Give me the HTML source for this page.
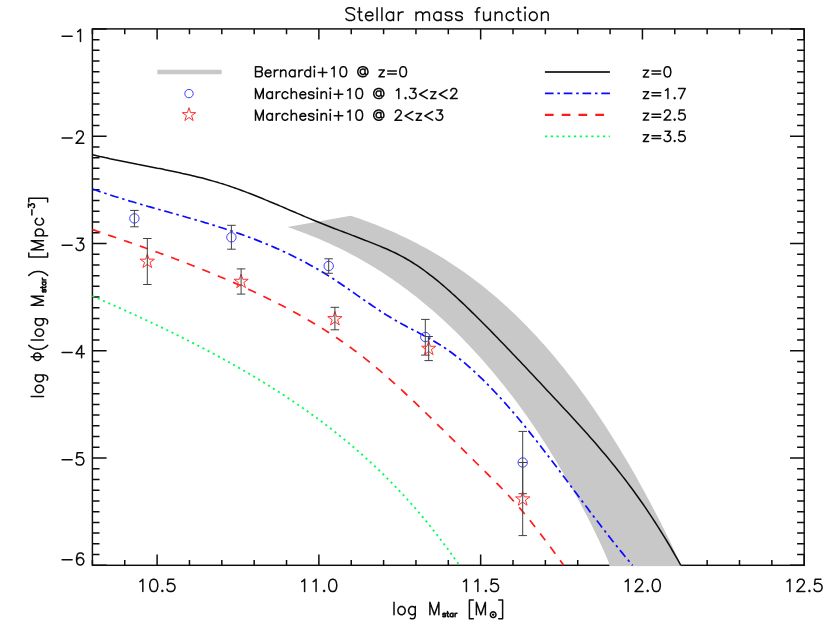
<!DOCTYPE html>
<html><head><meta charset="utf-8"><title>Stellar mass function</title>
<style>html,body{margin:0;padding:0;background:#fff}svg{display:block}text{font-family:"Liberation Sans",sans-serif}</style></head><body>
<svg width="830" height="624" viewBox="0 0 830 624">
<rect width="830" height="624" fill="#fff"/>
<defs><clipPath id="c"><rect x="91.7" y="28.9" width="713.2" height="537.1"/></clipPath></defs>
<rect x="92.4" y="28.9" width="711.8" height="536.4" fill="none" stroke="#0d0d0d" stroke-width="1.45"/>
<path d="M92.40 565.30 v-5.4 M92.40 28.90 v5.4 M124.75 565.30 v-5.4 M124.75 28.90 v5.4 M157.11 565.30 v-10.7 M157.11 28.90 v10.7 M189.46 565.30 v-5.4 M189.46 28.90 v5.4 M221.82 565.30 v-5.4 M221.82 28.90 v5.4 M254.17 565.30 v-5.4 M254.17 28.90 v5.4 M286.53 565.30 v-5.4 M286.53 28.90 v5.4 M318.88 565.30 v-10.7 M318.88 28.90 v10.7 M351.24 565.30 v-5.4 M351.24 28.90 v5.4 M383.59 565.30 v-5.4 M383.59 28.90 v5.4 M415.95 565.30 v-5.4 M415.95 28.90 v5.4 M448.30 565.30 v-5.4 M448.30 28.90 v5.4 M480.65 565.30 v-10.7 M480.65 28.90 v10.7 M513.01 565.30 v-5.4 M513.01 28.90 v5.4 M545.36 565.30 v-5.4 M545.36 28.90 v5.4 M577.72 565.30 v-5.4 M577.72 28.90 v5.4 M610.07 565.30 v-5.4 M610.07 28.90 v5.4 M642.43 565.30 v-10.7 M642.43 28.90 v10.7 M674.78 565.30 v-5.4 M674.78 28.90 v5.4 M707.14 565.30 v-5.4 M707.14 28.90 v5.4 M739.49 565.30 v-5.4 M739.49 28.90 v5.4 M771.85 565.30 v-5.4 M771.85 28.90 v5.4 M804.20 565.30 v-10.7 M804.20 28.90 v10.7 M92.40 28.90 h14.2 M804.20 28.90 h-14.2 M92.40 39.63 h7.1 M804.20 39.63 h-7.1 M92.40 50.36 h7.1 M804.20 50.36 h-7.1 M92.40 61.08 h7.1 M804.20 61.08 h-7.1 M92.40 71.81 h7.1 M804.20 71.81 h-7.1 M92.40 82.54 h7.1 M804.20 82.54 h-7.1 M92.40 93.27 h7.1 M804.20 93.27 h-7.1 M92.40 104.00 h7.1 M804.20 104.00 h-7.1 M92.40 114.72 h7.1 M804.20 114.72 h-7.1 M92.40 125.45 h7.1 M804.20 125.45 h-7.1 M92.40 136.18 h14.2 M804.20 136.18 h-14.2 M92.40 146.91 h7.1 M804.20 146.91 h-7.1 M92.40 157.64 h7.1 M804.20 157.64 h-7.1 M92.40 168.36 h7.1 M804.20 168.36 h-7.1 M92.40 179.09 h7.1 M804.20 179.09 h-7.1 M92.40 189.82 h7.1 M804.20 189.82 h-7.1 M92.40 200.55 h7.1 M804.20 200.55 h-7.1 M92.40 211.28 h7.1 M804.20 211.28 h-7.1 M92.40 222.00 h7.1 M804.20 222.00 h-7.1 M92.40 232.73 h7.1 M804.20 232.73 h-7.1 M92.40 243.46 h14.2 M804.20 243.46 h-14.2 M92.40 254.19 h7.1 M804.20 254.19 h-7.1 M92.40 264.92 h7.1 M804.20 264.92 h-7.1 M92.40 275.64 h7.1 M804.20 275.64 h-7.1 M92.40 286.37 h7.1 M804.20 286.37 h-7.1 M92.40 297.10 h7.1 M804.20 297.10 h-7.1 M92.40 307.83 h7.1 M804.20 307.83 h-7.1 M92.40 318.56 h7.1 M804.20 318.56 h-7.1 M92.40 329.28 h7.1 M804.20 329.28 h-7.1 M92.40 340.01 h7.1 M804.20 340.01 h-7.1 M92.40 350.74 h14.2 M804.20 350.74 h-14.2 M92.40 361.47 h7.1 M804.20 361.47 h-7.1 M92.40 372.20 h7.1 M804.20 372.20 h-7.1 M92.40 382.92 h7.1 M804.20 382.92 h-7.1 M92.40 393.65 h7.1 M804.20 393.65 h-7.1 M92.40 404.38 h7.1 M804.20 404.38 h-7.1 M92.40 415.11 h7.1 M804.20 415.11 h-7.1 M92.40 425.84 h7.1 M804.20 425.84 h-7.1 M92.40 436.56 h7.1 M804.20 436.56 h-7.1 M92.40 447.29 h7.1 M804.20 447.29 h-7.1 M92.40 458.02 h14.2 M804.20 458.02 h-14.2 M92.40 468.75 h7.1 M804.20 468.75 h-7.1 M92.40 479.48 h7.1 M804.20 479.48 h-7.1 M92.40 490.20 h7.1 M804.20 490.20 h-7.1 M92.40 500.93 h7.1 M804.20 500.93 h-7.1 M92.40 511.66 h7.1 M804.20 511.66 h-7.1 M92.40 522.39 h7.1 M804.20 522.39 h-7.1 M92.40 533.12 h7.1 M804.20 533.12 h-7.1 M92.40 543.84 h7.1 M804.20 543.84 h-7.1 M92.40 554.57 h7.1 M804.20 554.57 h-7.1 M92.40 565.30 h14.2 M804.20 565.30 h-14.2" stroke="#0d0d0d" stroke-width="1.5" fill="none"/>
<g clip-path="url(#c)">
<path d="M287.5 227.1 L350.7 215.7 L353.7 216.7 L356.7 217.7 L359.7 218.8 L362.7 219.8 L365.7 220.9 L368.7 222.0 L371.7 223.2 L374.7 224.3 L377.7 225.5 L380.7 226.7 L383.7 227.9 L386.7 229.2 L389.7 230.5 L392.7 231.8 L395.7 233.1 L398.7 234.5 L401.7 235.9 L404.7 237.3 L407.7 238.7 L410.7 240.2 L413.7 241.7 L416.7 243.3 L419.7 244.9 L422.7 246.5 L425.7 248.1 L428.7 249.8 L431.7 251.5 L434.7 253.2 L437.7 255.0 L440.7 256.8 L443.7 258.6 L446.7 260.5 L449.7 262.4 L452.7 264.4 L455.7 266.4 L458.7 268.4 L461.7 270.5 L464.7 272.6 L467.7 274.8 L470.7 277.0 L473.7 279.2 L476.7 281.5 L479.7 283.8 L482.7 286.1 L485.7 288.5 L488.7 291.0 L491.7 293.5 L494.7 296.0 L497.7 298.6 L500.7 301.2 L503.7 303.9 L506.7 306.6 L509.7 309.4 L512.7 312.2 L515.7 315.1 L518.7 318.0 L521.7 321.0 L524.7 324.0 L527.7 327.1 L530.7 330.2 L533.7 333.4 L536.7 336.6 L539.7 339.9 L542.7 343.2 L545.7 346.6 L548.7 350.0 L551.7 353.5 L554.7 357.1 L557.7 360.7 L560.7 364.4 L563.7 368.1 L566.7 371.9 L569.7 375.7 L572.7 379.6 L575.7 383.6 L578.7 387.6 L581.7 391.7 L584.7 395.8 L587.7 400.0 L590.7 404.3 L593.7 408.6 L596.7 413.0 L599.7 417.4 L602.7 422.0 L605.7 426.6 L608.7 431.2 L611.7 435.9 L614.7 440.7 L617.7 445.6 L620.7 450.5 L623.7 455.5 L626.7 460.5 L629.7 465.6 L632.7 470.8 L635.7 476.1 L638.7 481.4 L641.7 486.9 L644.7 492.3 L647.7 497.9 L650.7 503.5 L653.7 509.2 L656.7 515.0 L659.7 520.8 L662.7 526.8 L665.7 532.8 L668.7 538.8 L671.7 545.0 L674.7 551.2 L677.7 557.5 L680.7 563.9 L681.2 566.3 L609.5 566.3 L608.5 561.7 L605.5 554.8 L602.5 548.1 L599.5 541.6 L596.5 535.2 L593.5 529.1 L590.5 523.0 L587.5 517.1 L584.5 511.4 L581.5 505.7 L578.5 500.1 L575.5 494.7 L572.5 489.3 L569.5 484.0 L566.5 478.8 L563.5 473.6 L560.5 468.5 L557.5 463.5 L554.5 458.6 L551.5 453.7 L548.5 448.8 L545.5 444.1 L542.5 439.4 L539.5 434.8 L536.5 430.2 L533.5 425.8 L530.5 421.4 L527.5 417.1 L524.5 412.9 L521.5 408.7 L518.5 404.6 L515.5 400.6 L512.5 396.6 L509.5 392.7 L506.5 388.9 L503.5 385.1 L500.5 381.4 L497.5 377.7 L494.5 374.1 L491.5 370.5 L488.5 367.0 L485.5 363.6 L482.5 360.1 L479.5 356.8 L476.5 353.5 L473.5 350.2 L470.5 347.0 L467.5 343.8 L464.5 340.7 L461.5 337.6 L458.5 334.6 L455.5 331.6 L452.5 328.7 L449.5 325.8 L446.5 323.0 L443.5 320.2 L440.5 317.4 L437.5 314.7 L434.5 312.1 L431.5 309.5 L428.5 306.9 L425.5 304.4 L422.5 301.9 L419.5 299.5 L416.5 297.0 L413.5 294.7 L410.5 292.4 L407.5 290.1 L404.5 287.9 L401.5 285.7 L398.5 283.5 L395.5 281.4 L392.5 279.3 L389.5 277.2 L386.5 275.2 L383.5 273.3 L380.5 271.3 L377.5 269.4 L374.5 267.6 L371.5 265.7 L368.5 263.9 L365.5 262.2 L362.5 260.5 L359.5 258.8 L356.5 257.1 L353.5 255.5 L350.5 253.9 L347.5 252.3 L344.5 250.8 L341.5 249.3 L338.5 247.8 L335.5 246.4 L332.5 245.0 L329.5 243.6 L326.5 242.2 L323.5 240.9 L320.5 239.6 L317.5 238.3 L314.5 237.1 L311.5 235.9 L308.5 234.7 L305.5 233.5 L302.5 232.4 L299.5 231.3 L296.5 230.2 L293.5 229.1 L290.5 228.1 Z" fill="#c8c8c8"/>
<path d="M92.4 154.7 L94.9 155.3 L97.4 155.9 L99.9 156.5 L102.4 157.0 L104.9 157.6 L107.4 158.1 L109.9 158.7 L112.4 159.2 L114.9 159.8 L117.4 160.3 L119.9 160.8 L122.4 161.3 L124.9 161.8 L127.4 162.3 L129.9 162.8 L132.4 163.3 L134.9 163.8 L137.4 164.3 L139.9 164.7 L142.4 165.2 L144.9 165.7 L147.4 166.2 L149.9 166.7 L152.4 167.2 L154.9 167.7 L157.4 168.2 L159.9 168.6 L162.4 169.1 L164.9 169.7 L167.4 170.2 L169.9 170.7 L172.4 171.2 L174.9 171.7 L177.4 172.3 L179.9 172.8 L182.4 173.4 L184.9 173.9 L187.4 174.5 L189.9 175.1 L192.4 175.7 L194.9 176.3 L197.4 176.9 L199.9 177.5 L202.4 178.1 L204.9 178.8 L207.4 179.5 L209.9 180.2 L212.4 180.9 L214.9 181.6 L217.4 182.3 L219.9 183.1 L222.4 183.8 L224.9 184.6 L227.4 185.4 L229.9 186.3 L232.4 187.1 L234.9 188.0 L237.4 188.9 L239.9 189.8 L242.4 190.7 L244.9 191.6 L247.4 192.6 L249.9 193.5 L252.4 194.5 L254.9 195.5 L257.4 196.5 L259.9 197.5 L262.4 198.5 L264.9 199.6 L267.4 200.6 L269.9 201.7 L272.4 202.7 L274.9 203.8 L277.4 204.8 L279.9 205.9 L282.4 206.9 L284.9 208.0 L287.4 209.1 L289.9 210.2 L292.4 211.2 L294.9 212.3 L297.4 213.4 L299.9 214.4 L302.4 215.5 L304.9 216.6 L307.4 217.6 L309.9 218.6 L312.4 219.7 L314.9 220.7 L317.4 221.7 L319.9 222.7 L322.4 223.8 L324.9 224.7 L327.4 225.7 L329.9 226.7 L332.4 227.7 L334.9 228.7 L337.4 229.6 L339.9 230.6 L342.4 231.5 L344.9 232.5 L347.4 233.4 L349.9 234.4 L352.4 235.4 L354.9 236.3 L357.4 237.3 L359.9 238.2 L362.4 239.2 L364.9 240.2 L367.4 241.1 L369.9 242.1 L372.4 243.1 L374.9 244.1 L377.4 245.1 L379.9 246.1 L382.4 247.2 L384.9 248.2 L387.4 249.3 L389.9 250.5 L392.4 251.6 L394.9 252.8 L397.4 254.0 L399.9 255.3 L402.4 256.6 L404.9 258.0 L407.4 259.5 L409.9 260.9 L412.4 262.5 L414.9 264.1 L417.4 265.7 L419.9 267.4 L422.4 269.2 L424.9 271.0 L427.4 272.9 L429.9 274.8 L432.4 276.7 L434.9 278.7 L437.4 280.7 L439.9 282.8 L442.4 284.9 L444.9 287.0 L447.4 289.2 L449.9 291.4 L452.4 293.7 L454.9 295.9 L457.4 298.2 L459.9 300.6 L462.4 302.9 L464.9 305.3 L467.4 307.7 L469.9 310.1 L472.4 312.6 L474.9 315.0 L477.4 317.5 L479.9 320.0 L482.4 322.5 L484.9 325.0 L487.4 327.5 L489.9 330.1 L492.4 332.6 L494.9 335.2 L497.4 337.8 L499.9 340.4 L502.4 343.0 L504.9 345.6 L507.4 348.2 L509.9 350.8 L512.4 353.4 L514.9 356.0 L517.4 358.7 L519.9 361.3 L522.4 364.0 L524.9 366.6 L527.4 369.3 L529.9 372.0 L532.4 374.6 L534.9 377.3 L537.4 380.0 L539.9 382.6 L542.4 385.3 L544.9 388.0 L547.4 390.7 L549.9 393.3 L552.4 396.0 L554.9 398.7 L557.4 401.3 L559.9 404.0 L562.4 406.7 L564.9 409.4 L567.4 412.1 L569.9 414.8 L572.4 417.5 L574.9 420.2 L577.4 423.0 L579.9 425.7 L582.4 428.5 L584.9 431.3 L587.4 434.1 L589.9 436.9 L592.4 439.7 L594.9 442.6 L597.4 445.5 L599.9 448.4 L602.4 451.4 L604.9 454.3 L607.4 457.3 L609.9 460.4 L612.4 463.4 L614.9 466.5 L617.4 469.7 L619.9 472.9 L622.4 476.1 L624.9 479.3 L627.4 482.6 L629.9 486.0 L632.4 489.3 L634.9 492.8 L637.4 496.2 L639.9 499.8 L642.4 503.3 L644.9 506.9 L647.4 510.6 L649.9 514.3 L652.4 518.1 L654.9 522.0 L657.4 525.8 L659.9 529.8 L662.4 533.8 L664.9 537.9 L667.4 542.0 L669.9 546.2 L672.4 550.5 L674.9 554.8 L677.4 559.2 L679.9 563.6 L680.8 565.3" fill="none" stroke="#0d0d0d" stroke-width="1.5"/>
<path d="M92.4 189.0 L94.9 189.8 L97.4 190.7 L99.9 191.6 L102.4 192.4 L104.9 193.2 L107.4 194.1 L109.9 194.9 L112.4 195.7 L114.9 196.5 L117.4 197.2 L119.9 198.0 L122.4 198.8 L124.9 199.6 L127.4 200.3 L129.9 201.1 L132.4 201.8 L134.9 202.5 L137.4 203.3 L139.9 204.0 L142.4 204.7 L144.9 205.4 L147.4 206.2 L149.9 206.9 L152.4 207.6 L154.9 208.3 L157.4 209.0 L159.9 209.7 L162.4 210.4 L164.9 211.1 L167.4 211.8 L169.9 212.5 L172.4 213.2 L174.9 213.9 L177.4 214.6 L179.9 215.3 L182.4 216.0 L184.9 216.7 L187.4 217.5 L189.9 218.2 L192.4 218.9 L194.9 219.6 L197.4 220.4 L199.9 221.1 L202.4 221.8 L204.9 222.6 L207.4 223.3 L209.9 224.1 L212.4 224.9 L214.9 225.6 L217.4 226.4 L219.9 227.2 L222.4 228.0 L224.9 228.8 L227.4 229.7 L229.9 230.5 L232.4 231.3 L234.9 232.2 L237.4 233.0 L239.9 233.9 L242.4 234.8 L244.9 235.7 L247.4 236.6 L249.9 237.5 L252.4 238.5 L254.9 239.4 L257.4 240.4 L259.9 241.4 L262.4 242.4 L264.9 243.4 L267.4 244.4 L269.9 245.5 L272.4 246.5 L274.9 247.6 L277.4 248.7 L279.9 249.8 L282.4 251.0 L284.9 252.1 L287.4 253.3 L289.9 254.5 L292.4 255.7 L294.9 257.0 L297.4 258.2 L299.9 259.5 L302.4 260.8 L304.9 262.1 L307.4 263.5 L309.9 264.9 L312.4 266.3 L314.9 267.7 L317.4 269.1 L319.9 270.6 L322.4 272.1 L324.9 273.6 L327.4 275.1 L329.9 276.7 L332.4 278.3 L334.9 279.9 L337.4 281.6 L339.9 283.3 L342.4 285.0 L344.9 286.7 L347.4 288.4 L349.9 290.1 L352.4 291.9 L354.9 293.6 L357.4 295.4 L359.9 297.1 L362.4 298.9 L364.9 300.6 L367.4 302.3 L369.9 304.0 L372.4 305.8 L374.9 307.4 L377.4 309.1 L379.9 310.8 L382.4 312.4 L384.9 314.0 L387.4 315.6 L389.9 317.1 L392.4 318.6 L394.9 320.1 L397.4 321.5 L399.9 322.9 L402.4 324.3 L404.9 325.6 L407.4 327.0 L409.9 328.3 L412.4 329.6 L414.9 330.9 L417.4 332.1 L419.9 333.5 L422.4 334.8 L424.9 336.1 L427.4 337.4 L429.9 338.8 L432.4 340.2 L434.9 341.7 L437.4 343.2 L439.9 344.7 L442.4 346.3 L444.9 348.0 L447.4 349.7 L449.9 351.5 L452.4 353.3 L454.9 355.2 L457.4 357.1 L459.9 359.1 L462.4 361.1 L464.9 363.2 L467.4 365.4 L469.9 367.6 L472.4 369.8 L474.9 372.1 L477.4 374.4 L479.9 376.8 L482.4 379.2 L484.9 381.7 L487.4 384.2 L489.9 386.7 L492.4 389.3 L494.9 392.0 L497.4 394.6 L499.9 397.4 L502.4 400.1 L504.9 402.9 L507.4 405.7 L509.9 408.6 L512.4 411.5 L514.9 414.4 L517.4 417.3 L519.9 420.3 L522.4 423.3 L524.9 426.4 L527.4 429.5 L529.9 432.6 L532.4 435.7 L534.9 438.9 L537.4 442.0 L539.9 445.2 L542.4 448.5 L544.9 451.7 L547.4 455.0 L549.9 458.2 L552.4 461.5 L554.9 464.8 L557.4 468.1 L559.9 471.4 L562.4 474.8 L564.9 478.1 L567.4 481.4 L569.9 484.8 L572.4 488.1 L574.9 491.5 L577.4 494.8 L579.9 498.1 L582.4 501.5 L584.9 504.8 L587.4 508.1 L589.9 511.5 L592.4 514.8 L594.9 518.1 L597.4 521.3 L599.9 524.6 L602.4 527.9 L604.9 531.1 L607.4 534.3 L609.9 537.5 L612.4 540.7 L614.9 543.8 L617.4 547.0 L619.9 550.1 L622.4 553.1 L624.9 556.2 L627.4 559.2 L629.9 562.2 L632.4 565.1 L632.6 565.3" fill="none" stroke="#0a0aff" stroke-width="1.7" stroke-dasharray="8.7 3.8 2.5 3.8"/>
<path d="M92.4 229.5 L94.9 230.4 L97.4 231.3 L99.9 232.1 L102.4 233.0 L104.9 233.8 L107.4 234.7 L109.9 235.6 L112.4 236.4 L114.9 237.3 L117.4 238.1 L119.9 239.0 L122.4 239.9 L124.9 240.8 L127.4 241.6 L129.9 242.5 L132.4 243.4 L134.9 244.3 L137.4 245.1 L139.9 246.0 L142.4 246.9 L144.9 247.8 L147.4 248.7 L149.9 249.6 L152.4 250.5 L154.9 251.4 L157.4 252.3 L159.9 253.2 L162.4 254.1 L164.9 255.1 L167.4 256.0 L169.9 256.9 L172.4 257.8 L174.9 258.8 L177.4 259.7 L179.9 260.7 L182.4 261.6 L184.9 262.6 L187.4 263.5 L189.9 264.5 L192.4 265.5 L194.9 266.5 L197.4 267.5 L199.9 268.5 L202.4 269.5 L204.9 270.5 L207.4 271.5 L209.9 272.5 L212.4 273.5 L214.9 274.6 L217.4 275.6 L219.9 276.7 L222.4 277.7 L224.9 278.8 L227.4 279.8 L229.9 280.9 L232.4 282.0 L234.9 283.1 L237.4 284.2 L239.9 285.3 L242.4 286.5 L244.9 287.6 L247.4 288.7 L249.9 289.9 L252.4 291.1 L254.9 292.2 L257.4 293.4 L259.9 294.6 L262.4 295.8 L264.9 297.0 L267.4 298.2 L269.9 299.5 L272.4 300.7 L274.9 302.0 L277.4 303.2 L279.9 304.5 L282.4 305.8 L284.9 307.1 L287.4 308.4 L289.9 309.7 L292.4 311.1 L294.9 312.4 L297.4 313.8 L299.9 315.2 L302.4 316.6 L304.9 318.0 L307.4 319.5 L309.9 320.9 L312.4 322.4 L314.9 323.9 L317.4 325.4 L319.9 327.0 L322.4 328.5 L324.9 330.1 L327.4 331.7 L329.9 333.3 L332.4 334.9 L334.9 336.6 L337.4 338.3 L339.9 340.0 L342.4 341.7 L344.9 343.5 L347.4 345.2 L349.9 347.0 L352.4 348.9 L354.9 350.7 L357.4 352.6 L359.9 354.5 L362.4 356.4 L364.9 358.4 L367.4 360.4 L369.9 362.4 L372.4 364.4 L374.9 366.5 L377.4 368.6 L379.9 370.7 L382.4 372.8 L384.9 375.0 L387.4 377.2 L389.9 379.4 L392.4 381.6 L394.9 383.8 L397.4 386.1 L399.9 388.4 L402.4 390.7 L404.9 393.0 L407.4 395.3 L409.9 397.7 L412.4 400.0 L414.9 402.4 L417.4 404.8 L419.9 407.2 L422.4 409.6 L424.9 412.0 L427.4 414.5 L429.9 416.9 L432.4 419.4 L434.9 421.8 L437.4 424.3 L439.9 426.8 L442.4 429.2 L444.9 431.7 L447.4 434.2 L449.9 436.7 L452.4 439.2 L454.9 441.6 L457.4 444.1 L459.9 446.6 L462.4 449.1 L464.9 451.6 L467.4 454.1 L469.9 456.5 L472.4 459.0 L474.9 461.5 L477.4 464.0 L479.9 466.4 L482.4 468.9 L484.9 471.3 L487.4 473.8 L489.9 476.3 L492.4 478.8 L494.9 481.3 L497.4 483.9 L499.9 486.4 L502.4 489.0 L504.9 491.7 L507.4 494.3 L509.9 497.0 L512.4 499.8 L514.9 502.6 L517.4 505.4 L519.9 508.3 L522.4 511.2 L524.9 514.2 L527.4 517.3 L529.9 520.3 L532.4 523.5 L534.9 526.7 L537.4 529.9 L539.9 533.1 L542.4 536.4 L544.9 539.7 L547.4 543.1 L549.9 546.4 L552.4 549.8 L554.9 553.2 L557.4 556.6 L559.9 560.0 L562.4 563.5 L563.7 565.3" fill="none" stroke="#ff1a1a" stroke-width="1.7" stroke-dasharray="8.5 8.2"/>
<path d="M92.4 296.0 L95.4 297.3 L98.4 298.6 L101.4 299.9 L104.4 301.3 L107.4 302.6 L110.4 303.9 L113.4 305.2 L116.4 306.6 L119.4 307.9 L122.4 309.3 L125.4 310.6 L128.4 312.0 L131.4 313.4 L134.4 314.7 L137.4 316.1 L140.4 317.5 L143.4 318.9 L146.4 320.3 L149.4 321.7 L152.4 323.1 L155.4 324.6 L158.4 326.0 L161.4 327.4 L164.4 328.9 L167.4 330.3 L170.4 331.8 L173.4 333.2 L176.4 334.7 L179.4 336.2 L182.4 337.7 L185.4 339.2 L188.4 340.7 L191.4 342.2 L194.4 343.8 L197.4 345.3 L200.4 346.9 L203.4 348.4 L206.4 350.0 L209.4 351.6 L212.4 353.2 L215.4 354.8 L218.4 356.4 L221.4 358.0 L224.4 359.7 L227.4 361.3 L230.4 363.0 L233.4 364.7 L236.4 366.4 L239.4 368.1 L242.4 369.8 L245.4 371.5 L248.4 373.3 L251.4 375.1 L254.4 376.8 L257.4 378.6 L260.4 380.5 L263.4 382.3 L266.4 384.1 L269.4 386.0 L272.4 387.9 L275.4 389.8 L278.4 391.7 L281.4 393.6 L284.4 395.6 L287.4 397.6 L290.4 399.6 L293.4 401.6 L296.4 403.6 L299.4 405.7 L302.4 407.8 L305.4 409.9 L308.4 412.0 L311.4 414.1 L314.4 416.3 L317.4 418.5 L320.4 420.7 L323.4 423.0 L326.4 425.3 L329.4 427.6 L332.4 429.9 L335.4 432.3 L338.4 434.7 L341.4 437.1 L344.4 439.5 L347.4 442.0 L350.4 444.5 L353.4 447.1 L356.4 449.7 L359.4 452.3 L362.4 454.9 L365.4 457.6 L368.4 460.3 L371.4 463.1 L374.4 465.9 L377.4 468.7 L380.4 471.6 L383.4 474.5 L386.4 477.5 L389.4 480.5 L392.4 483.5 L395.4 486.6 L398.4 489.8 L401.4 493.0 L404.4 496.2 L407.4 499.5 L410.4 502.8 L413.4 506.2 L416.4 509.6 L419.4 513.1 L422.4 516.7 L425.4 520.3 L428.4 524.0 L431.4 527.7 L434.4 531.5 L437.4 535.3 L440.4 539.2 L443.4 543.2 L446.4 547.2 L449.4 551.3 L452.4 555.5 L455.4 559.8 L458.4 564.1 L459.2 565.3" fill="none" stroke="#00ff50" stroke-width="1.8" stroke-dasharray="2.1 3.7"/>
</g>
<circle cx="134.4" cy="218.4" r="4.7" fill="none" stroke="#4040ff" stroke-width="1"/>
<path d="M134.4 210.4 V226.8 M130.2 210.4 H138.7 M130.2 226.8 H138.7" stroke="#404040" stroke-width="1" fill="none"/>
<circle cx="231.4" cy="237.3" r="4.7" fill="none" stroke="#4040ff" stroke-width="1"/>
<path d="M231.4 225.3 V249.2 M227.2 225.3 H235.7 M227.2 249.2 H235.7" stroke="#404040" stroke-width="1" fill="none"/>
<circle cx="328.7" cy="266.0" r="4.7" fill="none" stroke="#4040ff" stroke-width="1"/>
<path d="M328.7 258.8 V273.3 M324.4 258.8 H332.9 M324.4 273.3 H332.9" stroke="#404040" stroke-width="1" fill="none"/>
<circle cx="425.3" cy="337.0" r="4.7" fill="none" stroke="#4040ff" stroke-width="1"/>
<path d="M425.3 319.4 V355.1 M421.1 319.4 H429.6 M421.1 355.1 H429.6" stroke="#404040" stroke-width="1" fill="none"/>
<circle cx="522.7" cy="462.5" r="4.7" fill="none" stroke="#4040ff" stroke-width="1"/>
<path d="M522.7 431.4 V493.7 M518.5 431.4 H527.0 M518.5 493.7 H527.0" stroke="#404040" stroke-width="1" fill="none"/>
<polygon points="147.30,254.00 148.98,259.18 154.43,259.18 150.02,262.39 151.71,267.57 147.30,264.37 142.89,267.57 144.58,262.39 140.17,259.18 145.62,259.18" fill="none" stroke="#ff3030" stroke-width="1"/>
<path d="M147.3 238.5 V284.5 M143.1 238.5 H151.6 M143.1 284.5 H151.6" stroke="#404040" stroke-width="1" fill="none"/>
<polygon points="241.10,274.10 242.78,279.28 248.23,279.28 243.82,282.49 245.51,287.67 241.10,284.47 236.69,287.67 238.38,282.49 233.97,279.28 239.42,279.28" fill="none" stroke="#ff3030" stroke-width="1"/>
<path d="M241.1 268.9 V294.1 M236.8 268.9 H245.3 M236.8 294.1 H245.3" stroke="#404040" stroke-width="1" fill="none"/>
<polygon points="334.90,311.40 336.58,316.58 342.03,316.58 337.62,319.79 339.31,324.97 334.90,321.76 330.49,324.97 332.18,319.79 327.77,316.58 333.22,316.58" fill="none" stroke="#ff3030" stroke-width="1"/>
<path d="M334.9 307.3 V329.8 M330.6 307.3 H339.1 M330.6 329.8 H339.1" stroke="#404040" stroke-width="1" fill="none"/>
<polygon points="428.70,341.10 430.38,346.28 435.83,346.28 431.42,349.49 433.11,354.67 428.70,351.47 424.29,354.67 425.98,349.49 421.57,346.28 427.02,346.28" fill="none" stroke="#ff3030" stroke-width="1"/>
<path d="M428.7 336.5 V360.6 M424.4 336.5 H432.9 M424.4 360.6 H432.9" stroke="#404040" stroke-width="1" fill="none"/>
<polygon points="522.70,491.70 524.38,496.88 529.83,496.88 525.42,500.09 527.11,505.27 522.70,502.06 518.29,505.27 519.98,500.09 515.57,496.88 521.02,496.88" fill="none" stroke="#ff3030" stroke-width="1"/>
<path d="M522.7 462.5 V535.6 M518.5 462.5 H527.0 M518.5 535.6 H527.0" stroke="#404040" stroke-width="1" fill="none"/>
<path d="M157.3 72 H221.7" stroke="#c8c8c8" stroke-width="4.6"/>
<circle cx="189.0" cy="93.6" r="4.2" fill="none" stroke="#4040ff" stroke-width="1"/>
<polygon points="189.00,107.70 190.59,112.61 195.75,112.61 191.58,115.64 193.17,120.54 189.00,117.51 184.83,120.54 186.42,115.64 182.25,112.61 187.41,112.61" fill="none" stroke="#ff3030" stroke-width="1"/>
<path d="M544.9 71.9 H609.9" stroke="#333" stroke-width="2"/>
<path d="M544.9 93.3 H609.9" stroke="#0a0aff" stroke-width="1.8" stroke-dasharray="8.7 3.8 2.5 3.8"/>
<path d="M544.9 114.9 H609.9" stroke="#ff1a1a" stroke-width="2.2" stroke-dasharray="8.7 8.1"/>
<path d="M544.9 136.3 H609.9" stroke="#00ff50" stroke-width="1.7" stroke-dasharray="2.3 3.5"/>
<path d="M255.50 71.49 L255.50 66.67 L259.84 66.67 L261.29 67.15 L261.77 67.63 L262.25 68.60 L262.25 69.56 L261.77 70.53 L261.29 71.01 L259.84 71.49 L255.50 71.49 L255.50 76.80 L259.84 76.80 L261.29 76.32 L261.77 75.83 L262.25 74.87 L262.25 73.42 L261.77 72.46 L261.29 71.97 L259.84 71.49 M265.15 72.94 L265.63 71.49 L266.60 70.53 L267.56 70.05 L269.01 70.05 L269.97 70.53 L270.46 71.01 L270.94 71.97 L270.94 72.94 L265.15 72.94 L265.15 73.91 L265.63 75.35 L266.60 76.32 L267.56 76.80 L269.01 76.80 L269.97 76.32 L270.94 75.35 M274.32 70.05 L274.32 76.80 M274.32 72.94 L274.80 71.49 L275.76 70.53 L276.73 70.05 L278.18 70.05 M280.59 70.05 L280.59 76.80 M280.59 71.97 L282.04 70.53 L283.00 70.05 L284.45 70.05 L285.41 70.53 L285.90 71.97 L285.90 76.80 M295.06 70.05 L295.06 76.80 M295.06 71.49 L294.10 70.53 L293.13 70.05 L291.69 70.05 L290.72 70.53 L289.76 71.49 L289.27 72.94 L289.27 73.91 L289.76 75.35 L290.72 76.32 L291.69 76.80 L293.13 76.80 L294.10 76.32 L295.06 75.35 M298.93 70.05 L298.93 76.80 M298.93 72.94 L299.41 71.49 L300.37 70.53 L301.34 70.05 L302.79 70.05 M310.50 66.67 L310.50 76.80 M310.50 71.49 L309.54 70.53 L308.57 70.05 L307.13 70.05 L306.16 70.53 L305.20 71.49 L304.71 72.94 L304.71 73.91 L305.20 75.35 L306.16 76.32 L307.13 76.80 L308.57 76.80 L309.54 76.32 L310.50 75.35 M314.37 70.05 L314.37 76.80 M313.88 66.67 L314.37 66.19 L314.85 66.67 L314.37 67.15 L313.88 66.67 M318.23 72.46 L326.91 72.46 M322.57 68.11 L322.57 76.80 M331.74 68.60 L332.70 68.11 L334.15 66.67 L334.15 76.80 M339.94 71.01 L340.42 68.60 L341.38 67.15 L342.83 66.67 L343.80 66.67 L345.25 67.15 L346.21 68.60 L346.69 71.01 L346.69 72.46 L346.21 74.87 L345.25 76.32 L343.80 76.80 L342.83 76.80 L341.38 76.32 L340.42 74.87 L339.94 72.46 L339.94 71.01 M365.03 69.08 L365.03 72.94 L364.55 73.91 L363.58 74.39 L362.13 74.39 L361.17 73.91 L360.69 73.42 L360.20 72.46 L360.20 71.01 L360.69 70.05 L361.17 69.56 L362.13 69.08 L363.58 69.08 L364.55 69.56 L365.03 70.53 M365.03 72.94 L365.51 73.91 L365.99 74.39 L366.96 74.39 L367.44 73.91 L367.92 72.94 L367.92 71.01 L367.44 69.56 L366.96 68.60 L365.99 67.63 L365.03 67.15 L363.58 66.67 L362.13 66.67 L360.69 67.15 L359.72 67.63 L358.75 68.60 L358.27 69.56 L357.79 71.01 L357.79 72.46 L358.27 73.91 L358.75 74.87 L359.72 75.83 L360.69 76.32 L362.13 76.80 L363.58 76.80 L365.03 76.32 L365.99 75.83 M379.02 70.05 L384.33 70.05 L379.02 76.80 L384.33 76.80 M387.71 71.01 L396.39 71.01 M387.71 73.91 L396.39 73.91 M399.77 71.01 L400.25 68.60 L401.22 67.15 L402.66 66.67 L403.63 66.67 L405.08 67.15 L406.04 68.60 L406.52 71.01 L406.52 72.46 L406.04 74.87 L405.08 76.32 L403.63 76.80 L402.66 76.80 L401.22 76.32 L400.25 74.87 L399.77 72.46 L399.77 71.01 M255.50 98.60 L255.50 88.47 L259.36 98.60 L263.22 88.47 L263.22 98.60 M272.39 91.84 L272.39 98.60 M272.39 93.29 L271.42 92.33 L270.46 91.84 L269.01 91.84 L268.04 92.33 L267.08 93.29 L266.60 94.74 L266.60 95.70 L267.08 97.15 L268.04 98.12 L269.01 98.60 L270.46 98.60 L271.42 98.12 L272.39 97.15 M276.25 91.84 L276.25 98.60 M276.25 94.74 L276.73 93.29 L277.69 92.33 L278.66 91.84 L280.11 91.84 M287.83 93.29 L286.86 92.33 L285.90 91.84 L284.45 91.84 L283.48 92.33 L282.52 93.29 L282.04 94.74 L282.04 95.70 L282.52 97.15 L283.48 98.12 L284.45 98.60 L285.90 98.60 L286.86 98.12 L287.83 97.15 M291.20 88.47 L291.20 98.60 M291.20 93.77 L292.65 92.33 L293.62 91.84 L295.06 91.84 L296.03 92.33 L296.51 93.77 L296.51 98.60 M299.89 94.74 L300.37 93.29 L301.34 92.33 L302.30 91.84 L303.75 91.84 L304.71 92.33 L305.20 92.81 L305.68 93.77 L305.68 94.74 L299.89 94.74 L299.89 95.70 L300.37 97.15 L301.34 98.12 L302.30 98.60 L303.75 98.60 L304.71 98.12 L305.68 97.15 M308.57 97.15 L309.06 98.12 L310.50 98.60 L311.95 98.60 L313.40 98.12 L313.88 97.15 L313.88 96.67 L313.40 95.70 L312.44 95.22 L310.02 94.74 L309.06 94.26 L308.57 93.29 L309.06 92.33 L310.50 91.84 L311.95 91.84 L313.40 92.33 L313.88 93.29 M317.26 91.84 L317.26 98.60 M316.78 88.47 L317.26 87.98 L317.74 88.47 L317.26 88.95 L316.78 88.47 M321.12 91.84 L321.12 98.60 M321.12 93.77 L322.57 92.33 L323.53 91.84 L324.98 91.84 L325.94 92.33 L326.43 93.77 L326.43 98.60 M330.29 91.84 L330.29 98.60 M329.81 88.47 L330.29 87.98 L330.77 88.47 L330.29 88.95 L329.81 88.47 M334.15 94.26 L342.83 94.26 M338.49 89.91 L338.49 98.60 M347.66 90.40 L348.62 89.91 L350.07 88.47 L350.07 98.60 M355.86 92.81 L356.34 90.40 L357.31 88.95 L358.75 88.47 L359.72 88.47 L361.17 88.95 L362.13 90.40 L362.62 92.81 L362.62 94.26 L362.13 96.67 L361.17 98.12 L359.72 98.60 L358.75 98.60 L357.31 98.12 L356.34 96.67 L355.86 94.26 L355.86 92.81 M380.95 90.88 L380.95 94.74 L380.47 95.70 L379.50 96.19 L378.06 96.19 L377.09 95.70 L376.61 95.22 L376.12 94.26 L376.12 92.81 L376.61 91.84 L377.09 91.36 L378.06 90.88 L379.50 90.88 L380.47 91.36 L380.95 92.33 M380.95 94.74 L381.43 95.70 L381.92 96.19 L382.88 96.19 L383.36 95.70 L383.85 94.74 L383.85 92.81 L383.36 91.36 L382.88 90.40 L381.92 89.43 L380.95 88.95 L379.50 88.47 L378.06 88.47 L376.61 88.95 L375.64 89.43 L374.68 90.40 L374.20 91.36 L373.71 92.81 L373.71 94.26 L374.20 95.70 L374.68 96.67 L375.64 97.63 L376.61 98.12 L378.06 98.60 L379.50 98.60 L380.95 98.12 L381.92 97.63 M396.39 90.40 L397.36 89.91 L398.80 88.47 L398.80 98.60 M405.08 98.12 L405.56 97.63 L406.04 98.12 L405.56 98.60 L405.08 98.12 M409.42 96.67 L409.90 97.63 L410.38 98.12 L411.83 98.60 L413.28 98.60 L414.73 98.12 L415.69 97.15 L416.17 95.70 L416.17 94.74 L415.69 93.29 L415.21 92.81 L414.24 92.33 L412.80 92.33 L415.69 88.47 L410.38 88.47 M427.27 89.91 L419.55 94.26 L427.27 98.60 M430.65 91.84 L435.95 91.84 L430.65 98.60 L435.95 98.60 M447.05 89.91 L439.33 94.26 L447.05 98.60 M450.91 90.88 L450.91 90.40 L451.39 89.43 L451.88 88.95 L452.84 88.47 L454.77 88.47 L455.74 88.95 L456.22 89.43 L456.70 90.40 L456.70 91.36 L456.22 92.33 L455.25 93.77 L450.43 98.60 L457.18 98.60 M255.50 120.20 L255.50 110.07 L259.36 120.20 L263.22 110.07 L263.22 120.20 M272.39 113.45 L272.39 120.20 M272.39 114.89 L271.42 113.93 L270.46 113.45 L269.01 113.45 L268.04 113.93 L267.08 114.89 L266.60 116.34 L266.60 117.31 L267.08 118.75 L268.04 119.72 L269.01 120.20 L270.46 120.20 L271.42 119.72 L272.39 118.75 M276.25 113.45 L276.25 120.20 M276.25 116.34 L276.73 114.89 L277.69 113.93 L278.66 113.45 L280.11 113.45 M287.83 114.89 L286.86 113.93 L285.90 113.45 L284.45 113.45 L283.48 113.93 L282.52 114.89 L282.04 116.34 L282.04 117.31 L282.52 118.75 L283.48 119.72 L284.45 120.20 L285.90 120.20 L286.86 119.72 L287.83 118.75 M291.20 110.07 L291.20 120.20 M291.20 115.38 L292.65 113.93 L293.62 113.45 L295.06 113.45 L296.03 113.93 L296.51 115.38 L296.51 120.20 M299.89 116.34 L300.37 114.89 L301.34 113.93 L302.30 113.45 L303.75 113.45 L304.71 113.93 L305.20 114.41 L305.68 115.38 L305.68 116.34 L299.89 116.34 L299.89 117.31 L300.37 118.75 L301.34 119.72 L302.30 120.20 L303.75 120.20 L304.71 119.72 L305.68 118.75 M308.57 118.75 L309.06 119.72 L310.50 120.20 L311.95 120.20 L313.40 119.72 L313.88 118.75 L313.88 118.27 L313.40 117.31 L312.44 116.82 L310.02 116.34 L309.06 115.86 L308.57 114.89 L309.06 113.93 L310.50 113.45 L311.95 113.45 L313.40 113.93 L313.88 114.89 M317.26 113.45 L317.26 120.20 M316.78 110.07 L317.26 109.59 L317.74 110.07 L317.26 110.55 L316.78 110.07 M321.12 113.45 L321.12 120.20 M321.12 115.38 L322.57 113.93 L323.53 113.45 L324.98 113.45 L325.94 113.93 L326.43 115.38 L326.43 120.20 M330.29 113.45 L330.29 120.20 M329.81 110.07 L330.29 109.59 L330.77 110.07 L330.29 110.55 L329.81 110.07 M334.15 115.86 L342.83 115.86 M338.49 111.52 L338.49 120.20 M347.66 112.00 L348.62 111.52 L350.07 110.07 L350.07 120.20 M355.86 114.41 L356.34 112.00 L357.31 110.55 L358.75 110.07 L359.72 110.07 L361.17 110.55 L362.13 112.00 L362.62 114.41 L362.62 115.86 L362.13 118.27 L361.17 119.72 L359.72 120.20 L358.75 120.20 L357.31 119.72 L356.34 118.27 L355.86 115.86 L355.86 114.41 M380.95 112.48 L380.95 116.34 L380.47 117.31 L379.50 117.79 L378.06 117.79 L377.09 117.31 L376.61 116.82 L376.12 115.86 L376.12 114.41 L376.61 113.45 L377.09 112.96 L378.06 112.48 L379.50 112.48 L380.47 112.96 L380.95 113.93 M380.95 116.34 L381.43 117.31 L381.92 117.79 L382.88 117.79 L383.36 117.31 L383.85 116.34 L383.85 114.41 L383.36 112.96 L382.88 112.00 L381.92 111.03 L380.95 110.55 L379.50 110.07 L378.06 110.07 L376.61 110.55 L375.64 111.03 L374.68 112.00 L374.20 112.96 L373.71 114.41 L373.71 115.86 L374.20 117.31 L374.68 118.27 L375.64 119.23 L376.61 119.72 L378.06 120.20 L379.50 120.20 L380.95 119.72 L381.92 119.23 M395.43 112.48 L395.43 112.00 L395.91 111.03 L396.39 110.55 L397.36 110.07 L399.29 110.07 L400.25 110.55 L400.73 111.03 L401.22 112.00 L401.22 112.96 L400.73 113.93 L399.77 115.38 L394.94 120.20 L401.70 120.20 M412.80 111.52 L405.08 115.86 L412.80 120.20 M416.17 113.45 L421.48 113.45 L416.17 120.20 L421.48 120.20 M432.58 111.52 L424.86 115.86 L432.58 120.20 M435.95 118.27 L436.44 119.23 L436.92 119.72 L438.37 120.20 L439.81 120.20 L441.26 119.72 L442.23 118.75 L442.71 117.31 L442.71 116.34 L442.23 114.89 L441.75 114.41 L440.78 113.93 L439.33 113.93 L442.23 110.07 L436.92 110.07 M643.30 70.15 L648.61 70.15 L643.30 76.90 L648.61 76.90 M651.98 71.11 L660.67 71.11 M651.98 74.01 L660.67 74.01 M664.05 71.11 L664.53 68.70 L665.49 67.25 L666.94 66.77 L667.91 66.77 L669.35 67.25 L670.32 68.70 L670.80 71.11 L670.80 72.56 L670.32 74.97 L669.35 76.42 L667.91 76.90 L666.94 76.90 L665.49 76.42 L664.53 74.97 L664.05 72.56 L664.05 71.11 M643.30 91.84 L648.61 91.84 L643.30 98.60 L648.61 98.60 M651.98 92.81 L660.67 92.81 M651.98 95.70 L660.67 95.70 M665.49 90.40 L666.46 89.91 L667.91 88.47 L667.91 98.60 M674.18 98.12 L674.66 97.63 L675.14 98.12 L674.66 98.60 L674.18 98.12 M678.52 88.47 L685.28 88.47 L680.45 98.60 M643.30 113.34 L648.61 113.34 L643.30 120.10 L648.61 120.10 M651.98 114.31 L660.67 114.31 M651.98 117.20 L660.67 117.20 M664.53 112.38 L664.53 111.90 L665.01 110.93 L665.49 110.45 L666.46 109.97 L668.39 109.97 L669.35 110.45 L669.84 110.93 L670.32 111.90 L670.32 112.86 L669.84 113.83 L668.87 115.27 L664.05 120.10 L670.80 120.10 M674.18 119.62 L674.66 119.13 L675.14 119.62 L674.66 120.10 L674.18 119.62 M678.52 118.17 L679.00 119.13 L679.49 119.62 L680.93 120.10 L682.38 120.10 L683.83 119.62 L684.79 118.65 L685.28 117.20 L685.28 116.24 L684.79 114.79 L683.83 113.83 L682.38 113.34 L680.93 113.34 L679.49 113.83 L679.00 114.31 L679.49 109.97 L684.31 109.97 M643.30 134.75 L648.61 134.75 L643.30 141.50 L648.61 141.50 M651.98 135.71 L660.67 135.71 M651.98 138.60 L660.67 138.60 M664.05 139.57 L664.53 140.53 L665.01 141.02 L666.46 141.50 L667.91 141.50 L669.35 141.02 L670.32 140.05 L670.80 138.60 L670.80 137.64 L670.32 136.19 L669.84 135.71 L668.87 135.23 L667.42 135.23 L670.32 131.37 L665.01 131.37 M674.18 141.02 L674.66 140.53 L675.14 141.02 L674.66 141.50 L674.18 141.02 M678.52 139.57 L679.00 140.53 L679.49 141.02 L680.93 141.50 L682.38 141.50 L683.83 141.02 L684.79 140.05 L685.28 138.60 L685.28 137.64 L684.79 136.19 L683.83 135.23 L682.38 134.75 L680.93 134.75 L679.49 135.23 L679.00 135.71 L679.49 131.37 L684.31 131.37 M346.00 18.67 L347.22 19.89 L349.05 20.50 L351.48 20.50 L353.31 19.89 L354.53 18.67 L354.53 16.85 L353.92 15.63 L353.31 15.02 L352.09 14.41 L348.44 13.19 L347.22 12.58 L346.61 11.97 L346.00 10.76 L346.00 9.54 L347.22 8.32 L349.05 7.71 L351.48 7.71 L353.31 8.32 L354.53 9.54 M357.57 11.97 L361.83 11.97 M359.40 7.71 L359.40 18.06 L360.01 19.89 L361.23 20.50 L362.44 20.50 M365.49 15.63 L366.10 13.80 L367.31 12.58 L368.53 11.97 L370.36 11.97 L371.58 12.58 L372.19 13.19 L372.80 14.41 L372.80 15.63 L365.49 15.63 L365.49 16.85 L366.10 18.67 L367.31 19.89 L368.53 20.50 L370.36 20.50 L371.58 19.89 L372.80 18.67 M377.06 7.71 L377.06 20.50 M381.93 7.71 L381.93 20.50 M393.50 11.97 L393.50 20.50 M393.50 13.80 L392.28 12.58 L391.07 11.97 L389.24 11.97 L388.02 12.58 L386.80 13.80 L386.19 15.63 L386.19 16.85 L386.80 18.67 L388.02 19.89 L389.24 20.50 L391.07 20.50 L392.28 19.89 L393.50 18.67 M398.37 11.97 L398.37 20.50 M398.37 15.63 L398.98 13.80 L400.20 12.58 L401.42 11.97 L403.25 11.97 M416.04 11.97 L416.04 20.50 M416.04 14.41 L417.86 12.58 L419.08 11.97 L420.91 11.97 L422.13 12.58 L422.73 14.41 L422.73 20.50 M422.73 14.41 L424.56 12.58 L425.78 11.97 L427.61 11.97 L428.82 12.58 L429.43 14.41 L429.43 20.50 M441.00 11.97 L441.00 20.50 M441.00 13.80 L439.79 12.58 L438.57 11.97 L436.74 11.97 L435.52 12.58 L434.31 13.80 L433.70 15.63 L433.70 16.85 L434.31 18.67 L435.52 19.89 L436.74 20.50 L438.57 20.50 L439.79 19.89 L441.00 18.67 M445.27 18.67 L445.88 19.89 L447.70 20.50 L449.53 20.50 L451.36 19.89 L451.97 18.67 L451.97 18.06 L451.36 16.85 L450.14 16.24 L447.09 15.63 L445.88 15.02 L445.27 13.80 L445.88 12.58 L447.70 11.97 L449.53 11.97 L451.36 12.58 L451.97 13.80 M455.62 18.67 L456.23 19.89 L458.06 20.50 L459.88 20.50 L461.71 19.89 L462.32 18.67 L462.32 18.06 L461.71 16.85 L460.49 16.24 L457.45 15.63 L456.23 15.02 L455.62 13.80 L456.23 12.58 L458.06 11.97 L459.88 11.97 L461.71 12.58 L462.32 13.80 M475.11 11.97 L479.37 11.97 M476.94 20.50 L476.94 10.15 L477.54 8.32 L478.76 7.71 L479.98 7.71 M483.63 11.97 L483.63 18.06 L484.24 19.89 L485.46 20.50 L487.29 20.50 L488.51 19.89 L490.33 18.06 L490.33 11.97 M490.33 18.06 L490.33 20.50 M495.21 11.97 L495.21 20.50 M495.21 14.41 L497.03 12.58 L498.25 11.97 L500.08 11.97 L501.30 12.58 L501.90 14.41 L501.90 20.50 M513.48 13.80 L512.26 12.58 L511.04 11.97 L509.21 11.97 L507.99 12.58 L506.78 13.80 L506.17 15.63 L506.17 16.85 L506.78 18.67 L507.99 19.89 L509.21 20.50 L511.04 20.50 L512.26 19.89 L513.48 18.67 M516.52 11.97 L520.78 11.97 M518.35 7.71 L518.35 18.06 L518.96 19.89 L520.17 20.50 L521.39 20.50 M525.05 11.97 L525.05 20.50 M524.44 7.71 L525.05 7.10 L525.66 7.71 L525.05 8.32 L524.44 7.71 M529.31 15.63 L529.92 13.80 L531.14 12.58 L532.35 11.97 L534.18 11.97 L535.40 12.58 L536.62 13.80 L537.23 15.63 L537.23 16.85 L536.62 18.67 L535.40 19.89 L534.18 20.50 L532.35 20.50 L531.14 19.89 L529.92 18.67 L529.31 16.85 L529.31 15.63 M541.49 11.97 L541.49 20.50 M541.49 14.41 L543.32 12.58 L544.53 11.97 L546.36 11.97 L547.58 12.58 L548.19 14.41 L548.19 20.50 M139.96 581.61 L141.11 581.02 L142.83 579.28 L142.83 591.50 M149.72 584.52 L150.30 581.61 L151.44 579.86 L153.17 579.28 L154.31 579.28 L156.04 579.86 L157.18 581.61 L157.76 584.52 L157.76 586.26 L157.18 589.17 L156.04 590.92 L154.31 591.50 L153.17 591.50 L151.44 590.92 L150.30 589.17 L149.72 586.26 L149.72 584.52 M161.78 590.92 L162.35 590.34 L162.92 590.92 L162.35 591.50 L161.78 590.92 M166.94 589.17 L167.52 590.34 L168.09 590.92 L169.81 591.50 L171.53 591.50 L173.26 590.92 L174.40 589.75 L174.98 588.01 L174.98 586.84 L174.40 585.10 L173.26 583.93 L171.53 583.35 L169.81 583.35 L168.09 583.93 L167.52 584.52 L168.09 579.28 L173.83 579.28 M301.74 581.61 L302.88 581.02 L304.61 579.28 L304.61 591.50 M313.22 581.61 L314.36 581.02 L316.09 579.28 L316.09 591.50 M323.55 590.92 L324.12 590.34 L324.70 590.92 L324.12 591.50 L323.55 590.92 M328.71 584.52 L329.29 581.61 L330.44 579.86 L332.16 579.28 L333.31 579.28 L335.03 579.86 L336.18 581.61 L336.75 584.52 L336.75 586.26 L336.18 589.17 L335.03 590.92 L333.31 591.50 L332.16 591.50 L330.44 590.92 L329.29 589.17 L328.71 586.26 L328.71 584.52 M463.51 581.61 L464.66 581.02 L466.38 579.28 L466.38 591.50 M474.99 581.61 L476.14 581.02 L477.86 579.28 L477.86 591.50 M485.32 590.92 L485.89 590.34 L486.47 590.92 L485.89 591.50 L485.32 590.92 M490.49 589.17 L491.06 590.34 L491.63 590.92 L493.36 591.50 L495.08 591.50 L496.80 590.92 L497.95 589.75 L498.52 588.01 L498.52 586.84 L497.95 585.10 L496.80 583.93 L495.08 583.35 L493.36 583.35 L491.63 583.93 L491.06 584.52 L491.63 579.28 L497.37 579.28 M625.28 581.61 L626.43 581.02 L628.15 579.28 L628.15 591.50 M635.61 582.19 L635.61 581.61 L636.19 580.44 L636.76 579.86 L637.91 579.28 L640.21 579.28 L641.35 579.86 L641.93 580.44 L642.50 581.61 L642.50 582.77 L641.93 583.93 L640.78 585.68 L635.04 591.50 L643.08 591.50 M647.09 590.92 L647.67 590.34 L648.24 590.92 L647.67 591.50 L647.09 590.92 M652.26 584.52 L652.83 581.61 L653.98 579.86 L655.70 579.28 L656.85 579.28 L658.57 579.86 L659.72 581.61 L660.30 584.52 L660.30 586.26 L659.72 589.17 L658.57 590.92 L656.85 591.50 L655.70 591.50 L653.98 590.92 L652.83 589.17 L652.26 586.26 L652.26 584.52 M787.05 581.61 L788.20 581.02 L789.92 579.28 L789.92 591.50 M797.39 582.19 L797.39 581.61 L797.96 580.44 L798.53 579.86 L799.68 579.28 L801.98 579.28 L803.13 579.86 L803.70 580.44 L804.27 581.61 L804.27 582.77 L803.70 583.93 L802.55 585.68 L796.81 591.50 L804.85 591.50 M808.87 590.92 L809.44 590.34 L810.01 590.92 L809.44 591.50 L808.87 590.92 M814.03 589.17 L814.61 590.34 L815.18 590.92 L816.90 591.50 L818.62 591.50 L820.35 590.92 L821.49 589.75 L822.07 588.01 L822.07 586.84 L821.49 585.10 L820.35 583.93 L818.62 583.35 L816.90 583.35 L815.18 583.93 L814.61 584.52 L815.18 579.28 L820.92 579.28 M62.10 36.26 L72.13 36.26 M77.70 31.61 L78.81 31.02 L80.48 29.28 L80.48 41.50 M62.10 137.94 L72.13 137.94 M76.58 133.87 L76.58 133.29 L77.14 132.12 L77.70 131.54 L78.81 130.96 L81.04 130.96 L82.15 131.54 L82.71 132.12 L83.27 133.29 L83.27 134.45 L82.71 135.61 L81.59 137.36 L76.03 143.18 L83.82 143.18 M62.10 245.22 L72.13 245.22 M76.03 248.13 L76.58 249.30 L77.14 249.88 L78.81 250.46 L80.48 250.46 L82.15 249.88 L83.27 248.71 L83.82 246.97 L83.82 245.80 L83.27 244.06 L82.71 243.48 L81.59 242.89 L79.92 242.89 L83.27 238.24 L77.14 238.24 M62.10 352.50 L72.13 352.50 M81.59 357.74 L81.59 345.52 L76.03 353.67 L84.38 353.67 M62.10 459.78 L72.13 459.78 M76.03 462.69 L76.58 463.86 L77.14 464.44 L78.81 465.02 L80.48 465.02 L82.15 464.44 L83.27 463.27 L83.82 461.53 L83.82 460.36 L83.27 458.62 L82.15 457.45 L80.48 456.87 L78.81 456.87 L77.14 457.45 L76.58 458.04 L77.14 452.80 L82.71 452.80 M62.10 559.86 L72.13 559.86 M76.58 561.03 L77.14 559.28 L78.25 558.12 L79.92 557.53 L80.48 557.53 L82.15 558.12 L83.27 559.28 L83.82 561.03 L83.82 561.61 L83.27 563.35 L82.15 564.52 L80.48 565.10 L79.92 565.10 L78.25 564.52 L77.14 563.35 L76.58 561.03 L76.58 558.12 L77.14 555.21 L78.25 553.46 L79.92 552.88 L81.04 552.88 L82.71 553.46 L83.27 554.62 M394.00 602.35 L394.00 614.70 M397.92 610.00 L398.48 608.23 L399.60 607.06 L400.72 606.47 L402.40 606.47 L403.52 607.06 L404.64 608.23 L405.20 610.00 L405.20 611.17 L404.64 612.94 L403.52 614.11 L402.40 614.70 L400.72 614.70 L399.60 614.11 L398.48 612.94 L397.92 611.17 L397.92 610.00 M410.24 618.23 L411.36 618.82 L413.04 618.82 L414.16 618.23 L414.72 617.64 L415.28 615.88 L415.28 606.47 M415.28 608.23 L414.16 607.06 L413.04 606.47 L411.36 606.47 L410.24 607.06 L409.12 608.23 L408.56 610.00 L408.56 611.17 L409.12 612.94 L410.24 614.11 L411.36 614.70 L413.04 614.70 L414.16 614.11 L415.28 612.94 M429.90 614.70 L429.90 602.35 L434.38 614.70 L438.86 602.35 L438.86 614.70 M442.80 616.05 L443.05 616.55 L443.80 616.80 L444.55 616.80 L445.30 616.55 L445.55 616.05 L445.55 615.80 L445.30 615.30 L444.80 615.05 L443.55 614.80 L443.05 614.55 L442.80 614.05 L443.05 613.55 L443.80 613.30 L444.55 613.30 L445.30 613.55 L445.55 614.05 M446.80 613.30 L448.55 613.30 M447.55 611.55 L447.55 615.80 L447.80 616.55 L448.30 616.80 L448.80 616.80 M453.05 613.30 L453.05 616.80 M453.05 614.05 L452.55 613.55 L452.05 613.30 L451.30 613.30 L450.80 613.55 L450.30 614.05 L450.05 614.80 L450.05 615.30 L450.30 616.05 L450.80 616.55 L451.30 616.80 L452.05 616.80 L452.55 616.55 L453.05 616.05 M455.05 613.30 L455.05 616.80 M455.05 614.80 L455.30 614.05 L455.80 613.55 L456.30 613.30 L457.05 613.30 M473.32 600.00 L469.40 600.00 L469.40 618.82 L473.32 618.82 M476.40 614.70 L476.40 602.35 L480.88 614.70 L485.36 602.35 L485.36 614.70 M496.00 614.70 L495.86 615.58 L495.46 616.37 L494.82 617.01 L494.03 617.41 L493.15 617.55 L492.27 617.41 L491.48 617.01 L490.84 616.37 L490.44 615.58 L490.30 614.70 L490.44 613.82 L490.84 613.03 L491.48 612.39 L492.27 611.99 L493.15 611.85 L494.03 611.99 L494.82 612.39 L495.46 613.03 L495.86 613.82 L496.00 614.70 M493.63 614.70 L493.49 615.04 L493.15 615.18 L492.81 615.04 L492.67 614.70 L492.81 614.36 L493.15 614.22 L493.49 614.36 L493.63 614.70 M493.00 614.70 L493.30 614.70 M498.70 600.00 L502.62 600.00 L502.62 618.82 L498.70 618.82" fill="none" stroke="#0d0d0d" stroke-width="1.50" stroke-linecap="round" stroke-linejoin="round"/>
<path transform="translate(43.5,397) rotate(-90)" d="M0.60 -12.35 L0.60 0.00 M4.52 -4.70 L5.08 -6.47 L6.20 -7.64 L7.32 -8.23 L9.00 -8.23 L10.12 -7.64 L11.24 -6.47 L11.80 -4.70 L11.80 -3.53 L11.24 -1.76 L10.12 -0.59 L9.00 0.00 L7.32 0.00 L6.20 -0.59 L5.08 -1.76 L4.52 -3.53 L4.52 -4.70 M16.84 3.53 L17.96 4.12 L19.64 4.12 L20.76 3.53 L21.32 2.94 L21.88 1.18 L21.88 -8.23 M21.88 -6.47 L20.76 -7.64 L19.64 -8.23 L17.96 -8.23 L16.84 -7.64 L15.72 -6.47 L15.16 -4.70 L15.16 -3.53 L15.72 -1.76 L16.84 -0.59 L17.96 0.00 L19.64 0.00 L20.76 -0.59 L21.88 -1.76 M40.31 -12.35 L40.31 0.00 M44.12 -6.17 L43.82 -4.76 L43.00 -3.56 L41.76 -2.75 L40.31 -2.47 L38.85 -2.75 L37.61 -3.56 L36.79 -4.76 L36.50 -6.17 L36.79 -7.59 L37.61 -8.79 L38.85 -9.60 L40.31 -9.88 L41.76 -9.60 L43.00 -8.79 L43.82 -7.59 L44.12 -6.17 M51.62 -14.70 L50.50 -13.52 L49.38 -11.76 L48.26 -9.41 L47.70 -6.47 L47.70 -4.12 L48.26 -1.18 L49.38 1.18 L50.50 2.94 L51.62 4.12 M56.90 -12.35 L56.90 0.00 M60.82 -4.70 L61.38 -6.47 L62.50 -7.64 L63.62 -8.23 L65.30 -8.23 L66.42 -7.64 L67.54 -6.47 L68.10 -4.70 L68.10 -3.53 L67.54 -1.76 L66.42 -0.59 L65.30 0.00 L63.62 0.00 L62.50 -0.59 L61.38 -1.76 L60.82 -3.53 L60.82 -4.70 M73.14 3.53 L74.26 4.12 L75.94 4.12 L77.06 3.53 L77.62 2.94 L78.18 1.18 L78.18 -8.23 M78.18 -6.47 L77.06 -7.64 L75.94 -8.23 L74.26 -8.23 L73.14 -7.64 L72.02 -6.47 L71.46 -4.70 L71.46 -3.53 L72.02 -1.76 L73.14 -0.59 L74.26 0.00 L75.94 0.00 L77.06 -0.59 L78.18 -1.76 M91.80 0.00 L91.80 -12.35 L96.28 0.00 L100.76 -12.35 L100.76 0.00 M104.80 1.65 L105.05 2.15 L105.80 2.40 L106.55 2.40 L107.30 2.15 L107.55 1.65 L107.55 1.40 L107.30 0.90 L106.80 0.65 L105.55 0.40 L105.05 0.15 L104.80 -0.35 L105.05 -0.85 L105.80 -1.10 L106.55 -1.10 L107.30 -0.85 L107.55 -0.35 M108.80 -1.10 L110.55 -1.10 M109.55 -2.85 L109.55 1.40 L109.80 2.15 L110.30 2.40 L110.80 2.40 M115.05 -1.10 L115.05 2.40 M115.05 -0.35 L114.55 -0.85 L114.05 -1.10 L113.30 -1.10 L112.80 -0.85 L112.30 -0.35 L112.05 0.40 L112.05 0.90 L112.30 1.65 L112.80 2.15 L113.30 2.40 L114.05 2.40 L114.55 2.15 L115.05 1.65 M117.05 -1.10 L117.05 2.40 M117.05 0.40 L117.30 -0.35 L117.80 -0.85 L118.30 -1.10 L119.05 -1.10 M121.60 -14.70 L122.72 -13.52 L123.84 -11.76 L124.96 -9.41 L125.52 -6.47 L125.52 -4.12 L124.96 -1.18 L123.84 1.18 L122.72 2.94 L121.60 4.12 M143.92 -14.70 L140.00 -14.70 L140.00 4.12 L143.92 4.12 M147.30 0.00 L147.30 -12.35 L151.78 0.00 L156.26 -12.35 L156.26 0.00 M161.30 -8.23 L161.30 4.12 M161.30 -6.47 L162.42 -7.64 L163.54 -8.23 L165.22 -8.23 L166.34 -7.64 L167.46 -6.47 L168.02 -4.70 L168.02 -3.53 L167.46 -1.76 L166.34 -0.59 L165.22 0.00 L163.54 0.00 L162.42 -0.59 L161.30 -1.76 M178.62 -6.47 L177.50 -7.64 L176.38 -8.23 L174.70 -8.23 L173.58 -7.64 L172.46 -6.47 L171.90 -4.70 L171.90 -3.53 L172.46 -1.76 L173.58 -0.59 L174.70 0.00 L176.38 0.00 L177.50 -0.59 L178.62 -1.76 M182.00 -11.61 L187.22 -11.61 M189.25 -10.16 L189.54 -9.58 L189.83 -9.29 L190.70 -9.00 L191.57 -9.00 L192.44 -9.29 L193.02 -9.87 L193.31 -10.74 L193.31 -11.32 L193.02 -12.19 L192.73 -12.48 L192.15 -12.77 L191.28 -12.77 L193.02 -15.09 L189.83 -15.09 M194.90 -14.70 L198.82 -14.70 L198.82 4.12 L194.90 4.12" fill="none" stroke="#0d0d0d" stroke-width="1.50" stroke-linecap="round" stroke-linejoin="round"/>
</svg></body></html>
